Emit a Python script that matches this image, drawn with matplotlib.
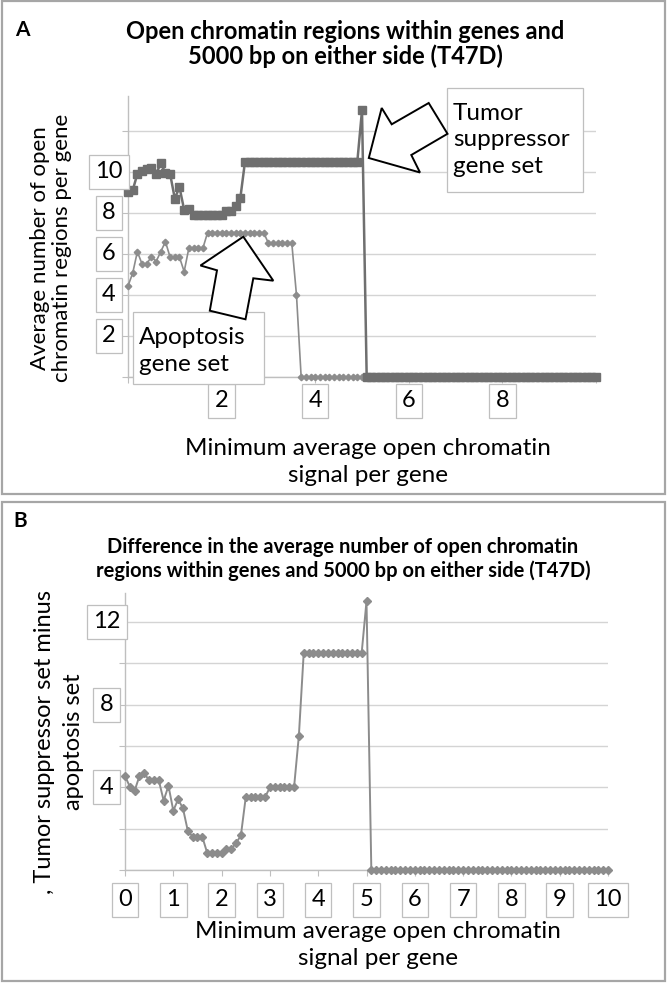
import numpy as np
import matplotlib
matplotlib.use("Agg")
import matplotlib.pyplot as plt
from matplotlib.patches import Polygon, Rectangle

plt.rcParams['font.family'] = ['Lato', 'DejaVu Sans']

# ---------------- data ----------------
x_signal = [round(0.1 * i, 1) for i in range(101)]

tumor_set = [9.00, 9.10, 9.90, 10.05, 10.15, 10.20, 9.90, 10.42, 9.95, 9.90,
             8.70, 9.25, 8.15, 8.18, 7.89, 7.89, 7.89, 7.88, 7.88, 7.88,
             7.88, 8.07, 8.07, 8.33, 8.72,
             10.5, 10.5, 10.5, 10.5, 10.5, 10.5, 10.5, 10.5, 10.5, 10.5,
             10.5, 10.5, 10.5, 10.5, 10.5, 10.5, 10.5, 10.5, 10.5, 10.5,
             10.5, 10.5, 10.5, 10.5, 10.5,
             13.0,
             0, 0, 0, 0, 0, 0, 0, 0, 0, 0, 0, 0, 0, 0, 0, 0, 0, 0, 0, 0, 0, 0, 0, 0, 0,
             0, 0, 0, 0, 0, 0, 0, 0, 0, 0, 0, 0, 0, 0, 0, 0, 0, 0, 0, 0, 0, 0, 0, 0, 0]

apoptosis_set = [4.44, 5.06, 6.11, 5.51, 5.51, 5.87, 5.63, 6.11, 6.60, 5.84,
                 5.84, 5.84, 5.14, 6.28, 6.28, 6.28, 6.28,
                 7.04, 7.04, 7.04, 7.04, 7.04, 7.04, 7.04, 7.04, 7.04, 7.04, 7.04, 7.04, 7.04,
                 6.52, 6.52, 6.52, 6.52, 6.52, 6.52,
                 4.00,
                 0, 0, 0, 0, 0, 0, 0, 0, 0, 0, 0, 0, 0, 0, 0, 0,
                 0, 0, 0, 0, 0, 0, 0, 0, 0, 0, 0, 0, 0, 0, 0, 0,
                 0, 0, 0, 0, 0, 0, 0, 0, 0, 0, 0, 0, 0, 0, 0, 0,
                 0, 0, 0, 0, 0, 0, 0, 0, 0, 0, 0, 0, 0, 0, 0, 0]

difference = [4.55, 4.03, 3.84, 4.55, 4.68, 4.33, 4.33, 4.33, 3.36, 4.07,
              2.87, 3.42, 2.98, 1.90, 1.61, 1.61, 1.61,
              0.84, 0.84, 0.84, 0.84, 1.03, 1.03, 1.29, 1.68,
              3.52, 3.52, 3.52, 3.52, 3.52,
              4.00, 4.00, 4.00, 4.00, 4.00, 4.00,
              6.50,
              10.5, 10.5, 10.5, 10.5, 10.5, 10.5, 10.5, 10.5, 10.5, 10.5, 10.5, 10.5, 10.5,
              13.0,
              0, 0, 0, 0, 0, 0, 0, 0, 0, 0, 0, 0, 0, 0, 0, 0, 0, 0, 0, 0, 0, 0, 0, 0, 0,
              0, 0, 0, 0, 0, 0, 0, 0, 0, 0, 0, 0, 0, 0, 0, 0, 0, 0, 0, 0, 0, 0, 0, 0, 0]

a_ytick_labels = ['2', '4', '6', '8', '10']
a_xtick_labels = ['2', '4', '6', '8']
b_ytick_labels = ['4', '8', '12']
b_xtick_labels = ['0', '1', '2', '3', '4', '5', '6', '7', '8', '9', '10']

# ---------------- layout helpers ----------------
W, H = 667, 983
fig = plt.figure(figsize=(W / 100, H / 100), dpi=100)
fig.patch.set_facecolor('white')


def fx(px):
    return px / W


def fy(py):
    return 1 - py / H


FRAME = '#a6a6a6'
GRID = '#d4d4d4'
SPINE = '#bfbfbf'
BOXEDGE = '#bfbfbf'

# panel frames
for (x0, y0, x1, y1) in [(2, 1, 665, 494), (2, 502, 665, 981)]:
    fig.patches.append(Rectangle((fx(x0), fy(y1)), fx(x1 - x0), (y1 - y0) / H,
                                 transform=fig.transFigure, fill=False,
                                 ec=FRAME, lw=1.6, zorder=0))

box_kw = dict(boxstyle='square,pad=0.27', fc='white', ec=BOXEDGE, lw=0.9)
TICKFS = 17
LABFS = 17


def style_axes(ax, ymax):
    ax.set_xlim(0, 10)
    ax.set_ylim(0, ymax)
    for s in ['top', 'right']:
        ax.spines[s].set_visible(False)
    for s in ['left', 'bottom']:
        ax.spines[s].set_color(SPINE)
        ax.spines[s].set_linewidth(1.0)
    ax.set_yticks(np.arange(0, 13, 2))
    ax.yaxis.grid(True, color=GRID, lw=1.0)
    ax.set_axisbelow(True)
    ax.tick_params(axis='both', length=4, color=SPINE, labelleft=False,
                   labelbottom=False, direction='out')


# ---------------- Panel A ----------------
axA = fig.add_axes([fx(128), fy(377), fx(596 - 128), (377 - 96) / H])
style_axes(axA, 13.7)
axA.set_xticks([0, 2, 4, 6, 8, 10])

axA.plot(x_signal, tumor_set, color='#6f6f6f', lw=1.8, marker='s', ms=5.3,
         clip_on=False, zorder=4)
axA.plot(x_signal, apoptosis_set, color='#8c8c8c', lw=1.2, marker='D', ms=3.3,
         clip_on=False, zorder=3)

for lab in a_ytick_labels:
    axA.text(-0.041, float(lab), lab, transform=axA.get_yaxis_transform(),
             ha='center', va='center', fontsize=TICKFS, bbox=box_kw, zorder=6,
             clip_on=False)
for lab in a_xtick_labels:
    axA.text(float(lab), -0.085, lab, transform=axA.get_xaxis_transform(),
             ha='center', va='center', fontsize=TICKFS, bbox=box_kw, zorder=6,
             clip_on=False)

fig.text(fx(22), fy(30), 'A', fontsize=15, fontweight='bold', ha='center', va='center')
fig.text(fx(345), fy(44), 'Open chromatin regions within genes and\n5000 bp on either side (T47D)',
         fontsize=17, fontweight='bold', ha='center', va='center', linespacing=1.1)
fig.text(fx(51), fy(248), 'Average number of open\nchromatin regions per gene',
         fontsize=16, rotation=90, ha='center', va='center', linespacing=1.1)
fig.text(fx(368), fy(462), 'Minimum average open chromatin\nsignal per gene',
         fontsize=17.5, ha='center', va='center', linespacing=1.4)

# annotation boxes
fig.patches.append(Rectangle((fx(133), fy(384)), fx(264 - 133), (384 - 312) / H,
                             transform=fig.transFigure, fc='white', ec=BOXEDGE,
                             lw=0.9, zorder=5))
fig.text(fx(139), fy(351), 'Apoptosis\ngene set', fontsize=17.5, ha='left', va='center',
         linespacing=1.3, zorder=6)
fig.patches.append(Rectangle((fx(447), fy(192)), fx(583 - 447), (192 - 88) / H,
                             transform=fig.transFigure, fc='white', ec=BOXEDGE,
                             lw=0.9, zorder=5))
fig.text(fx(453), fy(140), 'Tumor\nsuppressor\ngene set', fontsize=17.5, ha='left',
         va='center', linespacing=1.3, zorder=6)

# block arrows
arrow_apop = [(243.3, 236.7), (273.3, 280.7), (253.3, 278.3), (245.5, 319.3),
              (209.8, 310.7), (217.0, 270.3), (200.5, 265.5)]
arrow_tumor = [(368.8, 158.0), (381.7, 108.0), (391.7, 124.3), (428.7, 103.0),
               (447.5, 133.8), (411.3, 155.0), (420.0, 172.5)]
for pts in (arrow_apop, arrow_tumor):
    fig.patches.append(Polygon([(fx(a), fy(b)) for a, b in pts], closed=True,
                               transform=fig.transFigure, fc='white', ec='black',
                               lw=1.4, zorder=7))

# ---------------- Panel B ----------------
axB = fig.add_axes([fx(125), fy(870), fx(608 - 125), (870 - 593) / H])
style_axes(axB, 13.4)
axB.set_xticks(np.arange(0, 11, 1))

axB.plot(x_signal, difference, color='#8c8c8c', lw=1.4, marker='D', ms=3.8,
         clip_on=False, zorder=3)

for lab in b_ytick_labels:
    axB.text(-0.038, float(lab), lab, transform=axB.get_yaxis_transform(),
             ha='center', va='center', fontsize=TICKFS, bbox=box_kw, zorder=6,
             clip_on=False)
for lab in b_xtick_labels:
    axB.text(float(lab), -0.108, lab, transform=axB.get_xaxis_transform(),
             ha='center', va='center', fontsize=TICKFS, bbox=box_kw, zorder=6,
             clip_on=False)

fig.text(fx(20), fy(521), 'B', fontsize=15, fontweight='bold', ha='center', va='center')
fig.text(fx(343), fy(559), 'Difference in the average number of open chromatin\n'
         'regions within genes and 5000 bp on either side (T47D)',
         fontsize=14.5, fontweight='bold', ha='center', va='center', linespacing=1.2)
fig.text(fx(59), fy(742), ', Tumor suppressor set minus\napoptosis set',
         fontsize=17, rotation=90, ha='center', va='center', linespacing=1.45)
fig.text(fx(378), fy(945), 'Minimum average open chromatin\nsignal per gene',
         fontsize=17.5, ha='center', va='center', linespacing=1.35)

fig.savefig('out.png', dpi=100, facecolor='white')
